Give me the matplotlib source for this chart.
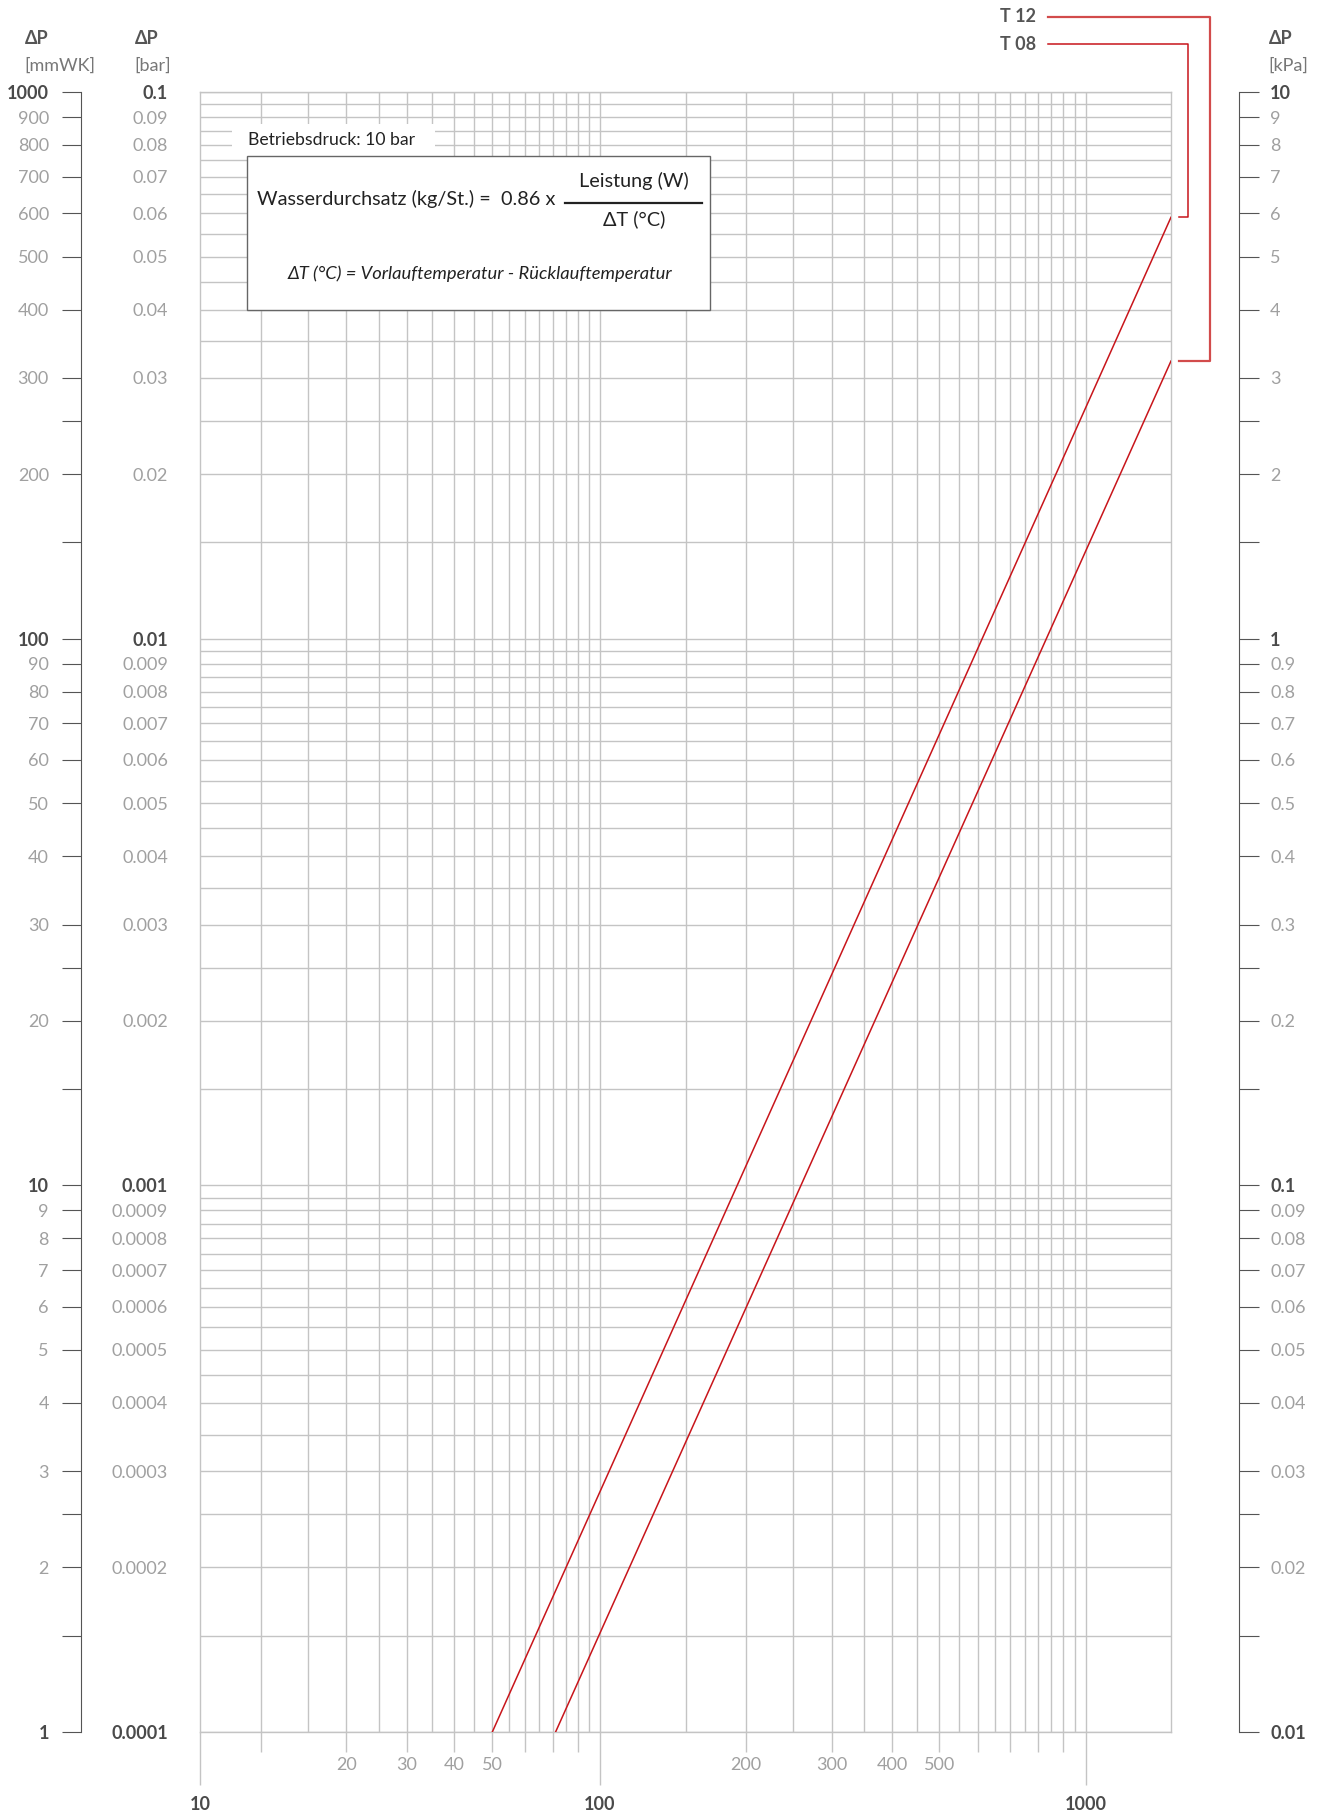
import numpy as np
import matplotlib
matplotlib.use("Agg")
import matplotlib.pyplot as plt
from matplotlib.lines import Line2D
from matplotlib.patches import Rectangle

# ---- data ----
# flow [kg/h] vs pressure drop [mmWK], two valve types
flow_t08 = [60, 1500]
dp_t08 = [1, 590]
flow_t12 = [81, 1500]
dp_t12 = [1, 322]

# x axis (flow) tick marks and printed labels
x_major = [15, 100, 1000]
x_major_labels = ["10", "100", "1000"]
x_minor = [20, 30, 40, 50, 60, 70, 80, 90, 200, 300, 400, 500, 600, 700, 800, 900]
x_minor_labels = ["", "20", "30", "40", "50", "", "", "", "200", "300", "400", "500", "", "", "", ""]
x_grid = list(range(20, 100, 5)) + list(range(100, 1001, 50))

# pressure axes
mm_labeled = [1000, 900, 800, 700, 600, 500, 400, 300, 200,
              100, 90, 80, 70, 60, 50, 40, 30, 20,
              10, 9, 8, 7, 6, 5, 4, 3, 2, 1]
mm_unlabeled = [250, 150, 25, 15, 2.5, 1.5]
mm_bold = [1000, 100, 10, 1]
y_grid = [m * k for k in (1, 10, 100) for m in np.arange(1, 10, 0.5)] + [1000]

W, H = 1323, 1814
DARK = "#4a4a4a"
GREY = "#a0a0a0"
GRID = "#c4c4c4"
RED = "#c8151b"
TICK_FS = 13

plt.rcParams['font.family'] = ['Lato', 'DejaVu Sans']

fig = plt.figure(figsize=(W / 100, H / 100), dpi=100)
bot = (H - 1732) / H
hgt = 1640 / H


def fx(px):
    return px / W


def fy(py):
    return 1 - py / H


# ---- main chart ----
ax = fig.add_axes([fx(200), bot, 971 / W, hgt])
ax.set_xscale("log")
ax.set_yscale("log")
ax.set_xlim(15, 1500)
ax.set_ylim(1, 1000)
for s in ax.spines.values():
    s.set_color(GRID)
    s.set_linewidth(1.0)
for v in x_grid:
    ax.axvline(v, color=GRID, lw=1.0, zorder=1)
for v in y_grid:
    ax.axhline(v, color=GRID, lw=1.0, zorder=1)

ax.plot(flow_t08, dp_t08, color=RED, lw=1.1, zorder=3)
ax.plot(flow_t12, dp_t12, color=RED, lw=1.1, zorder=3)

ax.set_xticks(x_major, x_major_labels)
ax.set_xticks(x_minor, x_minor_labels, minor=True)
ax.tick_params(axis="x", which="major", length=38, width=1.0, color=GRID,
               pad=8, labelsize=TICK_FS, labelcolor=DARK)
ax.tick_params(axis="x", which="minor", length=14.4, width=1.0, color=GRID,
               pad=3.5, labelsize=TICK_FS, labelcolor=GREY)
for t in ax.get_xticklabels():
    t.set_fontweight("bold")
ax.set_yticks([])
ax.yaxis.set_minor_locator(matplotlib.ticker.NullLocator())


def side_axis(left, lo, hi, values, labels, bold_vals, side):
    a = fig.add_axes([left, bot, 5 / W, hgt])
    a.patch.set_visible(False)
    a.set_yscale("log")
    a.set_ylim(lo, hi)
    a.set_xticks([])
    for s in a.spines.values():
        s.set_visible(False)
    a.set_yticks(values, labels)
    a.yaxis.set_minor_locator(matplotlib.ticker.NullLocator())
    if side == "right":
        a.yaxis.tick_right()
    for tk, v in zip(a.yaxis.get_major_ticks(), values):
        bold = any(np.isclose(v, b) for b in bold_vals)
        for lab in (tk.label1, tk.label2):
            lab.set_color(DARK if bold else GREY)
            lab.set_fontweight("bold" if bold else "normal")
    return a


mm_vals = mm_labeled + mm_unlabeled
mm_labels = [f"{v:g}" for v in mm_labeled] + [""] * len(mm_unlabeled)

ax_mm = side_axis(fx(81), 1, 1000, mm_vals, mm_labels, mm_bold, "left")
ax_mm.spines["left"].set_visible(True)
ax_mm.spines["left"].set_color("#555555")
ax_mm.spines["left"].set_linewidth(0.8)
ax_mm.tick_params(axis="y", length=13.7, width=0.8, color="#555555",
                  pad=9.4, labelsize=TICK_FS)

bar_vals = [v / 10000 for v in mm_labeled]
ax_bar = side_axis(fx(170), 1e-4, 0.1, bar_vals, [f"{v:g}" for v in bar_vals],
                   [v / 10000 for v in mm_bold], "left")
ax_bar.tick_params(axis="y", length=0, pad=1.5, labelsize=TICK_FS)

kpa_vals = [v / 100 for v in mm_vals]
kpa_labels = [f"{v / 100:g}" for v in mm_labeled] + [""] * len(mm_unlabeled)
ax_kpa = side_axis(fx(1234), 0.01, 10, kpa_vals, kpa_labels,
                   [v / 100 for v in mm_bold], "right")
ax_kpa.spines["right"].set_visible(True)
ax_kpa.spines["right"].set_color("#555555")
ax_kpa.spines["right"].set_linewidth(0.8)
ax_kpa.tick_params(axis="y", length=14.4, width=0.8, color="#555555",
                   pad=8, labelsize=TICK_FS)

# ---- headers ----
for x0, unit in [(25, "[mmWK]"), (135, "[bar]"), (1269, "[kPa]")]:
    fig.text(fx(x0), fy(38), "ΔP", ha="left", va="center", fontsize=13,
             fontweight="bold", color="#555555")
    fig.text(fx(x0 - 1), fy(66), unit, ha="left", va="center", fontsize=13,
             color="#777777")

# ---- info box ----
fig.add_artist(Rectangle((fx(232), fy(156)), 203 / W, 32 / H, transform=fig.transFigure,
                         facecolor="white", edgecolor="none", zorder=2))
fig.text(fx(248), fy(140), "Betriebsdruck: 10 bar", ha="left", va="center",
         fontsize=12.7, color="#222222", zorder=3)
fig.add_artist(Rectangle((fx(247), fy(310)), 463 / W, 154 / H, transform=fig.transFigure,
                         facecolor="white", edgecolor="#666666", lw=1.0, zorder=2))
fig.text(fx(257), fy(199), "Wasserdurchsatz (kg/St.) =  0.86 x", ha="left",
         va="center", fontsize=14.3, color="#222222", zorder=3)
fig.text(fx(634), fy(181), "Leistung (W)", ha="center", va="center",
         fontsize=14.3, color="#222222", zorder=3)
fig.add_artist(Line2D([fx(565), fx(702)], [fy(202.5), fy(202.5)],
                      transform=fig.transFigure, color="#222222", lw=1.6, zorder=3))
fig.text(fx(634), fy(219), "ΔT (°C)", ha="center", va="center",
         fontsize=14.3, color="#222222", zorder=3)
fig.text(fx(480), fy(274), "ΔT (°C) = Vorlauftemperatur - Rücklauftemperatur",
         ha="center", va="center", fontsize=13.2, style="italic",
         color="#222222", zorder=3)

# ---- series labels with bracket connectors ----
for name, fl, dp, ylab, xb, col, lw in [("T 08", flow_t08, dp_t08, 44, 1188, RED, 1.1),
                                       ("T 12", flow_t12, dp_t12, 17, 1210, "#d24b4b", 1.6)]:
    ex, ey = ax.transData.transform((fl[-1], dp[-1]))
    ye = ey / H
    fig.add_artist(Line2D([fx(1048), fx(xb), fx(xb), fx(1179)],
                          [fy(ylab), fy(ylab), ye, ye],
                          transform=fig.transFigure, color=col, lw=lw))
    fig.text(fx(1036), fy(ylab), name, ha="right", va="center", fontsize=13,
             fontweight="bold", color="#555555")

fig.savefig("out.png", dpi=100)
